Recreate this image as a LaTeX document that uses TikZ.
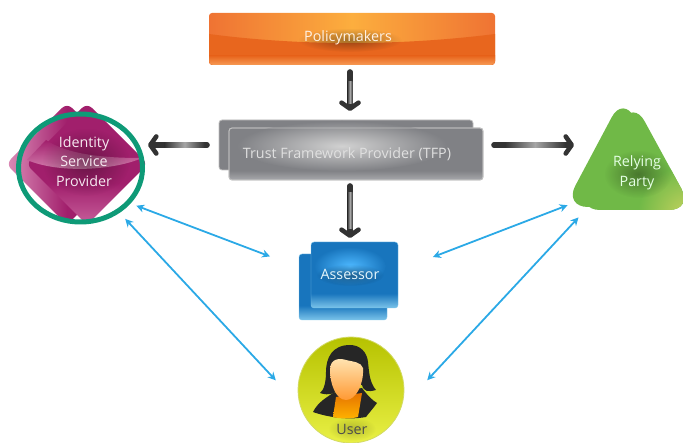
\documentclass[tikz,border=0pt]{standalone}
\usepackage{fontspec}
\setmainfont{Open Sans}
\usetikzlibrary{arrows.meta,shapes.geometric,fadings}
\definecolor{ringgreen}{HTML}{0E9A77}
\definecolor{linkblue}{HTML}{2BA9E6}
\definecolor{idpink}{HTML}{A11F6C}
\definecolor{idpale}{HTML}{DC8DB8}
\definecolor{idlow}{HTML}{C8609C}
\definecolor{relygreen}{HTML}{70B947}
\definecolor{relypale}{HTML}{C3D25E}
\definecolor{tfpgray}{HTML}{808185}
\definecolor{tfplight}{HTML}{A8A9AC}
\definecolor{orangedark}{HTML}{E8661E}
\definecolor{orangeedge}{HTML}{EF7333}
\definecolor{orangemid}{HTML}{FCAE3E}
\definecolor{orangelow}{HTML}{F79B55}
\definecolor{bluedark}{HTML}{1875BD}
\definecolor{bluelight}{HTML}{7CC4EA}
\definecolor{userrim}{HTML}{B6C200}
\definecolor{userlow}{HTML}{E9F045}
\pgfdeclareverticalshading{cardshade}{100bp}{color(0bp)=(bluelight); color(25bp)=(bluelight); color(36bp)=(bluedark); color(100bp)=(bluedark)}
\pgfdeclareverticalshading{tfpshade}{100bp}{color(0bp)=(tfplight); color(25bp)=(tfplight); color(34bp)=(tfpgray); color(100bp)=(tfpgray)}
\pgfdeclareverticalshading{idshade}{100bp}{color(0bp)=(idlow); color(25bp)=(idlow); color(42bp)=(idpink); color(100bp)=(idpink)}
\tikzfading[name=glowfade, inner color=transparent!0, outer color=transparent!100]
\tikzset{
    panel/.style={rectangle, rounded corners=3pt, inner sep=0, outer sep=0},
    label/.style={align=center, font=\fontsize{14.3}{19.5}\selectfont},
    glow/.style={black, opacity=0.35, path fading=glowfade},
    darrow/.style={line width=5.6pt, draw=black!80, line cap=round,
        -{Straight Barb[length=6pt, width=17pt, round, line width=4.6pt]}},
    shine/.style={rectangle, inner sep=0, minimum height=5.4pt, sloped,
        left color=black!80, right color=black!80, middle color=black!35},
    barrow/.style={linkblue, line width=1.8pt, {Stealth[length=8pt, width=8pt]}-{Stealth[length=8pt, width=8pt]}}
}
\begin{document}
\begin{tikzpicture}[x=1pt, y=-1pt]
    \useasboundingbox (0, 0) rectangle (683, 443);
    \coordinate (mid_pnt) at (350, 0);

    % top box
    \node[panel, minimum width=286pt, minimum height=52pt, left color=orangeedge, right color=orangeedge, middle color=orangemid] (policy) at (352, 39) {};
    \begin{scope}
        \clip[rounded corners=4pt] (209, 13) rectangle (495, 65);
        \fill[orangedark] (209, 34) .. controls (300, 46) and (400, 46) .. (495, 34) -- (495, 65) -- (209, 65) -- cycle;
        \shade[top color=orangedark, bottom color=orangelow] (209, 56) rectangle (495, 65);
    \end{scope}
    \fill[glow] (350, 40) ellipse (52 and 12);
    \node[label, text=white!90!orange] (policy_txt) at (348, 38) {Policymakers};

    % middle boxes
    \node[panel, minimum width=254pt, minimum height=50pt, fill=tfpgray, draw=black!25, line width=0.8pt] (tfp_back) at (346, 145) {};
    \node[panel, minimum width=254pt, minimum height=52pt, shading=tfpshade, draw=black!25, line width=0.8pt] (tfp_front) at (356, 154) {};
    \shade[inner color=black!18, outer color=tfpgray] (342, 146) ellipse (105 and 25);
    \draw[rounded corners=3pt, black!25, line width=0.8pt] (tfp_front.north west) rectangle (tfp_front.south east);
    \node[label, text=black!12] (tfp_txt) at (347, 154) {Trust Framework Provider (TFP)};

    % left diamonds
    \shade[rounded corners=7pt, left color=idpale, right color=idpink, middle color=idpink] (6, 164) -- (67, 103) -- (128, 164) -- (67, 225) -- cycle;
    \shade[rounded corners=7pt, shading=idshade] (26, 164) -- (87, 103) -- (148, 164) -- (87, 225) -- cycle;
    \shade[top color=idpink, bottom color=idpale] (27, 160) -- (46, 140) .. controls (70, 156) and (110, 158) .. (142, 158) .. controls (115, 170) and (60, 174) .. (27, 160) -- cycle;
    \node[ellipse, draw=ringgreen, line width=5pt, inner sep=0, outer sep=0, minimum width=124pt, minimum height=108pt] (idp_ring) at (80.5, 168) {};
    \fill[glow] (86, 162) ellipse (44 and 34);
    \node[label, text=white!90!idpink] (idp_txt) at (84, 161.5) {Identity\\Service\\Provider};

    % right triangles
    \fill[relygreen, rounded corners=24pt] (623, 96) -- (564, 207) -- (682, 207) -- cycle;
    \fill[relygreen, rounded corners=24pt] (633, 100) -- (576, 210) -- (693, 210) -- cycle;
    \begin{scope}
        \clip[rounded corners=24pt] (633, 100) -- (576, 210) -- (693, 210) -- cycle;
        \shade[inner color=relypale, outer color=relygreen] (686, 214) circle (48);
    \end{scope}
    \fill[glow] (638, 174) ellipse (34 and 24);
    \node[circle, inner sep=0, outer sep=0, minimum size=120pt] (rely) at (628, 172) {};
    \node[label, text=white!90!green] (rely_txt) at (637, 173) {Relying\\Party};

    % assessor cards
    \node[panel, minimum width=88pt, minimum height=66pt, shading=cardshade, draw=bluelight] (assess_back) at (343, 287) {};
    \node[panel, minimum width=87pt, minimum height=66pt, shading=cardshade, draw=bluelight] (assess_front) at (354.5, 275) {};
    \shade[inner color=cyan!60!blue!70, outer color=bluedark] (350, 266) ellipse (36 and 19);
    \fill[glow] (350, 275) ellipse (34 and 11);
    \node[label, text=white!90!cyan] (assess_txt) at (350, 274) {Assessor};

    % user badge
    \node[circle, inner sep=0, outer sep=0, minimum size=106pt, top color=userrim, bottom color=userlow, draw=userrim!60, line width=0.8pt] (user) at (351, 390) {};
    \fill[black!85] (350, 345) .. controls (332, 345) and (326, 358) .. (326, 372) .. controls (326, 382) and (324, 390) .. (320, 393) .. controls (328, 396) and (338, 394) .. (343, 385) -- (362, 385) .. controls (364, 392) and (368, 392) .. (376, 390) .. controls (369, 382) and (369, 370) .. (368, 362) .. controls (367, 352) and (360, 345) .. (350, 345) -- cycle;
    \fill[black!85] (313, 412) .. controls (318, 402) and (326, 398) .. (333, 393) -- (362, 388) .. controls (368, 396) and (372, 400) .. (377, 403) .. controls (372, 410) and (368, 414) .. (366, 417) .. controls (350, 420) and (330, 418) .. (313, 412) -- cycle;
    \shade[top color=orange!90!black, bottom color=orange!60!yellow] (336, 397) -- (362, 393) -- (358, 417) .. controls (350, 419) and (341, 419) .. (333, 417) -- cycle;
    \shade[top color=yellow!30!orange!30, bottom color=orange!80] (330, 370) .. controls (330, 358) and (340, 358) .. (346, 360) .. controls (354, 362) and (361, 362) .. (363, 368) .. controls (364, 384) and (356, 400) .. (346, 400) .. controls (336, 400) and (330, 384) .. (330, 370) -- cycle;
    \fill[glow, opacity=0.2] (352, 429) ellipse (24 and 12);
    \node[label, text=black!70] (user_txt) at (352, 429) {User};

    % gray arrows
    \draw[darrow, shorten <=7pt, shorten >=9pt] (policy.south -| mid_pnt) -- (tfp_back.north -| mid_pnt) node[shine, midway, minimum width=22pt] (shine_a) {};
    \draw[darrow, shorten <=6pt, shorten >=4pt] (tfp_front.south -| mid_pnt) -- (assess_front.north -| mid_pnt) node[shine, midway, minimum width=36pt] (shine_b) {};
    \draw[darrow, shorten <=12pt, shorten >=5.5pt] (tfp_back.west) -- (tfp_back.west -| idp_ring.east) node[shine, pos=0.45, minimum width=40pt] (shine_c) {};
    \draw[darrow, shorten <=21pt, shorten >=54pt] (tfp_back.east) -- (tfp_back.east -| rely.center) node[shine, pos=0.4, minimum width=60pt] (shine_d) {};

    % blue arrows
    \draw[barrow, shorten <=8.8pt, shorten >=31pt] (idp_ring.-36.4) -- (assess_back.156.6);
    \draw[barrow, shorten <=10.7pt, shorten >=36.8pt] (idp_ring.-49.3) -- (user.199.7);
    \draw[barrow, shorten <=37.4pt, shorten >=9.1pt] (assess_front.6.3) -- (rely.210.9);
    \draw[barrow, shorten <=39.3pt, shorten >=7.2pt] (user.-21.8) -- (rely.222.7);
\end{tikzpicture}
\end{document}
